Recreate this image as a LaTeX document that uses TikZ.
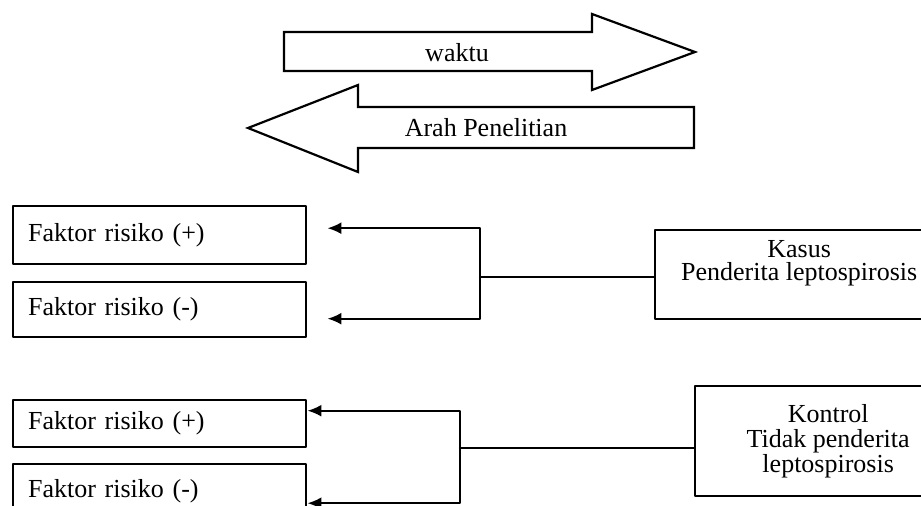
\documentclass[tikz,border=0pt]{standalone}
\usepackage{fontspec}
\setmainfont{Liberation Serif}
\usetikzlibrary{arrows.meta,positioning,calc}
\begin{document}
\begin{tikzpicture}[x=0.5pt,y=-0.5pt, line join=round, line cap=round,
    font=\fontsize{13}{15}\selectfont,
    faktor/.style={draw, line width=1.2pt, anchor=north west, text width=131.5pt, inner xsep=7.5pt, inner ysep=0pt, align=left},
    grup/.style={draw, line width=1.2pt, anchor=north west, inner sep=0pt},
    arah/.style={draw, line width=1.1pt, line join=miter},
    tanda/.style={-{Latex[length=7pt,width=6pt]}, line width=1.1pt}]
    \useasboundingbox (0,0) rectangle (921,506);
    \clip (0,0) rectangle (921,506);
    % arah waktu dan arah penelitian
    \draw[arah] (284,32)--(592,32)--(592,14)--(695,52)--(592,90)--(592,71)--(284,71)--cycle;
    \node (waktu) at (457,53) {waktu};
    \draw[arah] (694,107)--(358,107)--(358,85)--(248,128)--(358,172)--(358,148)--(694,148)--cycle;
    \node (arah) at (486,128) {Arah Penelitian};
    % kelompok kasus
    \node[faktor, minimum height=29pt] (fa1) at (12,205) {Faktor risiko (+)};
    \node[faktor, minimum height=27.5pt] (fa2) at (12,281) {Faktor risiko (-)};
    \node[grup, minimum width=144pt, minimum height=44.5pt] (kasus) at (654,229) {};
    \node[align=center, font=\fontsize{13}{11.5}\selectfont] (kasustxt) at ($(kasus.center)+(0,-11)$) {Kasus\\Penderita leptospirosis};
    \coordinate (ja) at (480,277);
    \draw[line width=1.1pt] (kasus.west |- ja)--(ja);
    \draw[tanda] (ja) |- ([xshift=10pt,yshift=3.5pt]fa1.east);
    \draw[tanda] (ja) |- ([xshift=10pt,yshift=-4.5pt]fa2.east);
    % kelompok kontrol
    \node[faktor, minimum height=23.5pt] (fb1) at (12,399) {Faktor risiko (+)};
    \node[faktor, minimum height=27pt] (fb2) at (12,463) {Faktor risiko (-)};
    \node[grup, minimum width=133pt, minimum height=55pt, align=center, font=\fontsize{13}{12.5}\selectfont] (kontrol) at (694,385) {Kontrol\\Tidak penderita\\leptospirosis};
    \coordinate (jb) at (460,448);
    \draw[line width=1.1pt] (kontrol.west |- jb)--(jb);
    \draw[tanda] (jb) |- ([yshift=6.5pt]fb1.east);
    \draw[tanda] (jb) |- ([yshift=-6pt]fb2.east);
\end{tikzpicture}
\end{document}
